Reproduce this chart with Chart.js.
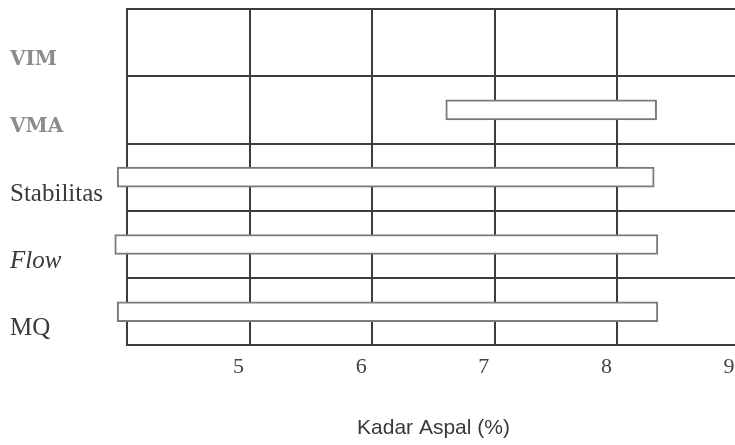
<!DOCTYPE html>
<html>
<head>
<meta charset="utf-8">
<script src="https://cdn.jsdelivr.net/npm/chart.js@4.4.1/dist/chart.umd.min.js"></script>
<style>
  html, body { margin: 0; padding: 0; background: #fff; overflow: hidden; }
</style>
</head>
<body>
<canvas id="chart" width="745" height="445"></canvas>
<script>
(function() {

  "use strict";

  // rows, top to bottom
  var categories = ["VIM", "VMA", "Stabilitas", "Flow", "MQ"];
  // range of asphalt content (%) that meets each spec
  var rangeStart = [null, 6.6, 3.92, 3.9, 3.92];
  var rangeEnd = [null, 8.32, 8.3, 8.33, 8.33];
  var xTicks = [4, 5, 6, 7, 8, 9];

  var ranges = categories.map(function(c, i) {
    return rangeStart[i] === null ? null : [rangeStart[i], rangeEnd[i]];
  });

  var gridColor = "#3c3c3c";

  // keep the plot area where the layout padding puts it
  function noEdgePadding(scale) {
    scale.paddingTop = 0;
    scale.paddingBottom = 0;
    scale.paddingLeft = 0;
    scale.paddingRight = 0;
  }

  new Chart(document.getElementById("chart"), {
    type: 'bar',
    data: {
      labels: categories,
      datasets: [{
        label: "Kadar Aspal",
        data: ranges,
        backgroundColor: "#ffffff",
        borderColor: "#7a7a7a",
        borderWidth: 2,
        borderSkipped: false,
        barThickness: 20,
        clip: false
      }]
    },
    options: {
      indexAxis: 'y',
      responsive: false,
      animation: false,
      layout: { padding: { left: 10, right: 5, top: 9, bottom: 2 } },
      plugins: {
        legend: { display: false },
        tooltip: { enabled: false }
      },
      scales: {
        x: {
          type: 'linear',
          min: xTicks[0],
          max: xTicks[xTicks.length - 1],
          afterBuildTicks: function(scale) {
            scale.ticks = xTicks.map(function(v) { return { value: v }; });
          },
          afterFit: noEdgePadding,
          grid: { color: gridColor, lineWidth: 2, drawTicks: false },
          border: { color: gridColor, width: 2 },
          ticks: {
            padding: 9,
            labelOffset: -11,
            color: "#444",
            font: { family: "'Liberation Serif', serif", size: 22 },
            callback: function(v) { return v === xTicks[0] ? '' : v; }
          },
          title: {
            display: true,
            text: "Kadar Aspal (%)",
            color: "#3a3a3a",
            font: { family: "'Liberation Sans', Arial, sans-serif", size: 21 },
            padding: { top: 26, bottom: 2 }
          }
        },
        y: {
          afterFit: function(scale) {
            noEdgePadding(scale);
            scale.width = 117;
          },
          grid: { color: gridColor, lineWidth: 2, drawTicks: false, offset: true },
          border: { color: gridColor, width: 2 },
          ticks: {
            crossAlign: 'far',
            labelOffset: 17,
            color: function(ctx) { return ctx.index < 2 ? "#8c8c8c" : "#3a3a3a"; },
            font: function(ctx) {
              if (ctx.index < 2) {
                return { family: "'DejaVu Serif', serif", size: 20, weight: 'bold' };
              }
              return {
                family: "'Liberation Serif', serif",
                size: 25,
                style: ctx.index === 3 ? 'italic' : 'normal'
              };
            }
          }
        }
      }
    }
  });

})();
</script>
</body>
</html>
